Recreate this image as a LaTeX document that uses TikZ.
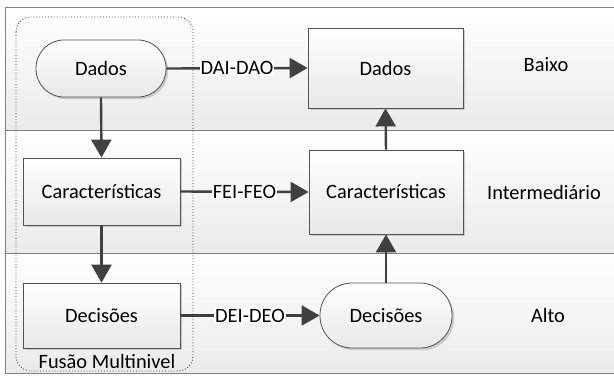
\documentclass[tikz,border=0pt]{standalone}
\usepackage{fontspec}
\setmainfont{Carlito}
\usetikzlibrary{arrows.meta,shadows}
\definecolor{ink}{HTML}{404040}
\definecolor{rule}{HTML}{808080}
\tikzset{
  x=1pt, y=-1pt,
  every node/.style={font=\fontsize{20.4}{24}\selectfont, text=black},
  band/.style={draw=rule, line width=0.9pt, top color=white, bottom color=black!8},
  boxstyle/.style={draw=ink!90, line width=0.8pt, top color=white, bottom color=black!9,
    drop shadow={shadow xshift=2.2pt, shadow yshift=-2.2pt, fill=black!30, opacity=0.6},
    inner sep=0pt, align=center},
  procbox/.style={boxstyle, rectangle},
  termbox/.style={boxstyle, rounded corners=#1},
  flow/.style={draw=ink, line width=2.4pt, -{Triangle[length=18pt,width=20pt]}},
  flowlabel/.style={fill=white, inner sep=1pt},
  levellabel/.style={anchor=center},
}
\begin{document}
\begin{tikzpicture}
\useasboundingbox (0,0) rectangle (614,376);

% level bands
\path[band] (5,7) rectangle (616,130);
\path[band] (5,130) rectangle (616,253);
\path[band] (5,253) rectangle (616,373);

% multilevel fusion group
\draw[ink, dotted, line width=0.9pt, rounded corners=15pt] (16,17) rectangle (193,371);
\node (grp) at (107,361) {Fusão Multinivel};

% left column
\node[termbox=28pt, minimum width=130pt, minimum height=57pt] (ld) at (101,68.5) {Dados};
\node[procbox, minimum width=157pt, minimum height=67pt] (lc) at (101.5,191.5) {Características};
\node[procbox, minimum width=157pt, minimum height=65pt] (lx) at (101.5,315.5) {Decisões};

% right column
\node[procbox, minimum width=155pt, minimum height=80pt] (rd) at (385.5,68) {Dados};
\node[procbox, minimum width=154pt, minimum height=84pt] (rc) at (386,192) {Características};
\node[termbox=32pt, minimum width=132pt, minimum height=65pt] (rx) at (386,315.5) {Decisões};

% level names
\node[levellabel] (lv1) at (546,65) {Baixo};
\node[levellabel] (lv2) at (544,192) {Intermediário};
\node[levellabel] (lv3) at (548,315) {Alto};

% connectors
\draw[flow] (ld.south) -- (lc.north);
\draw[flow] (lc.south) -- (lx.north);
\draw[flow] (rc.north) -- (rd.south);
\draw[flow] (rx.north) -- (rc.south);
\draw[flow] (ld.east) -- node[flowlabel] {DAI-DAO} (rd.west);
\draw[flow] (lc.east) -- node[flowlabel] {FEI-FEO} (rc.west);
\draw[flow] (lx.east) -- node[flowlabel] {DEI-DEO} (rx.west);
\end{tikzpicture}
\end{document}
